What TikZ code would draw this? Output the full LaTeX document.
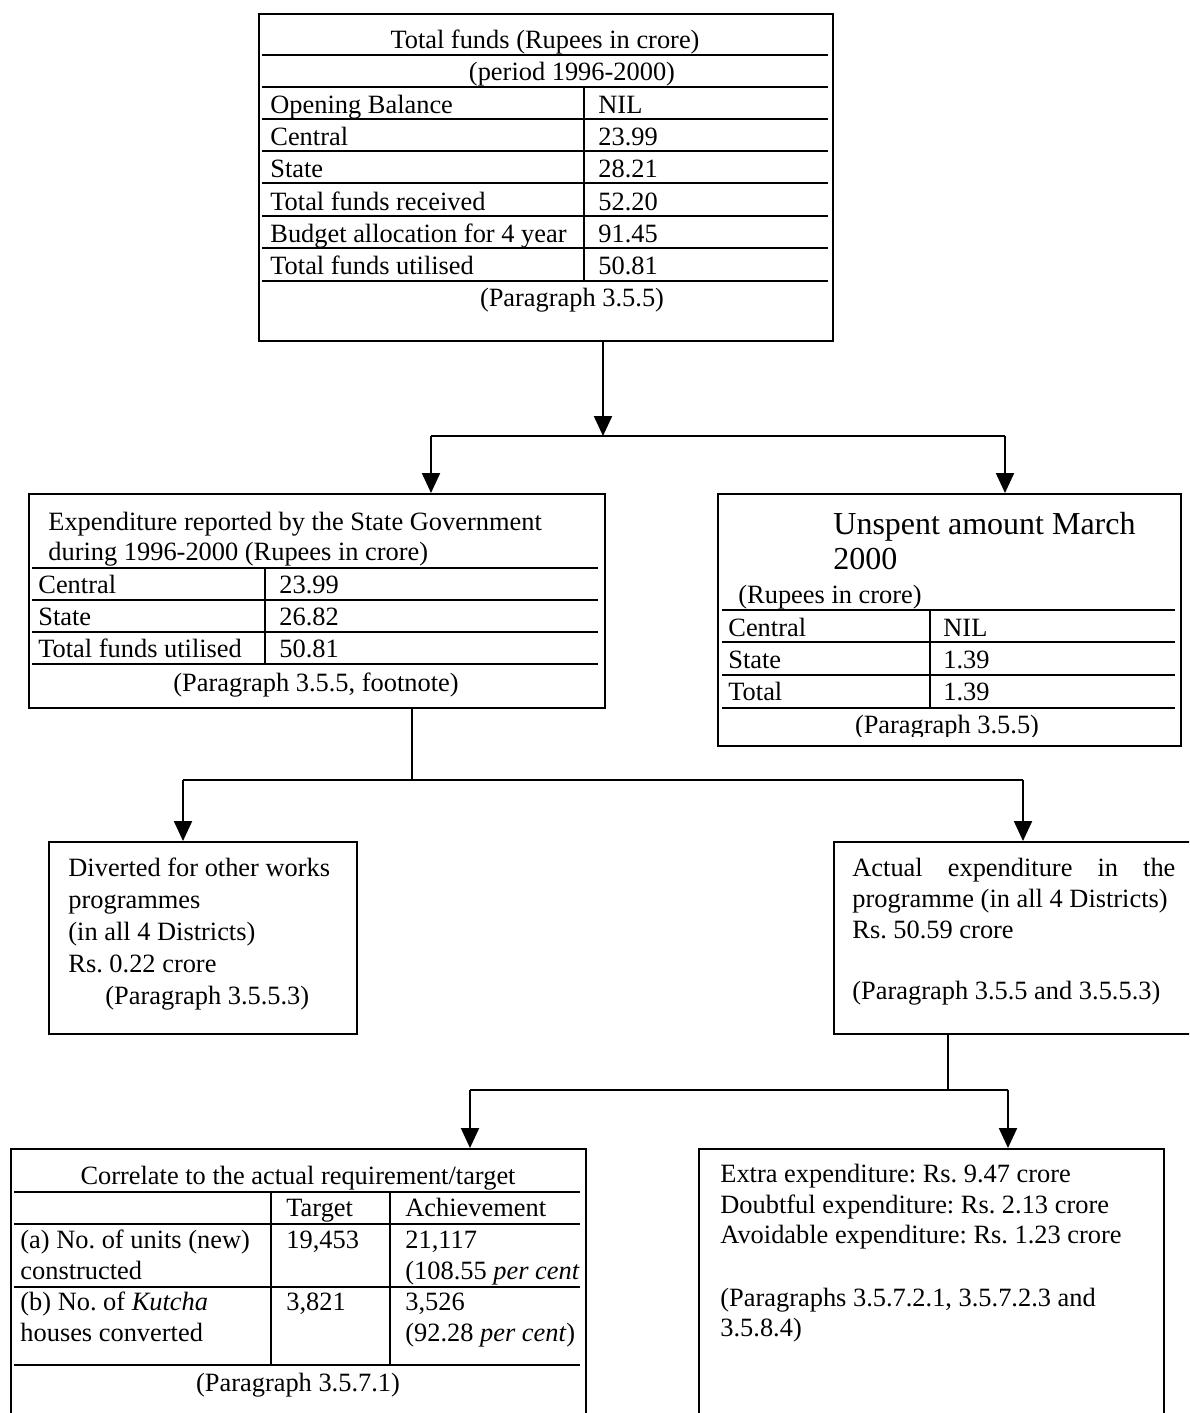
\documentclass[tikz,border=0pt]{standalone}
\usepackage{fontspec}
\setmainfont{Liberation Serif}
\usetikzlibrary{arrows.meta}
\frenchspacing

\begin{document}
\begin{tikzpicture}[x=0.5pt,y=-0.5pt]
\tikzset{boite/.style={draw, line width=1.1pt, anchor=north west, inner sep=0pt},
  regle/.style={line width=0.8pt},
  lien/.style={line width=1.1pt},
  fleche/.style={lien, -{Triangle[length=10pt,width=9pt]}},
  txt/.style={anchor=base west, inner sep=0pt, font=\fontsize{13.2}{15.5}\selectfont},
  ctxt/.style={txt, anchor=base}}
\useasboundingbox (0,0) rectangle (1189,1413);
\clip (0,0) rectangle (1189,1413);

% boxes
\node[boite, minimum width=287pt, minimum height=163.5pt] (total) at (258,13) {};
\node[boite, minimum width=288pt, minimum height=107pt] (expend) at (28,493) {};
\node[boite, minimum width=231.5pt, minimum height=126pt] (unspent) at (717,493) {};
\node[boite, minimum width=154pt, minimum height=96pt] (divert) at (48,841) {};
\node[boite, minimum width=190pt, minimum height=96pt] (actual) at (833,841) {};
\node[boite, minimum width=287.5pt, minimum height=145pt] (correl) at (10,1148) {};
\node[boite, minimum width=232.5pt, minimum height=145pt] (extra) at (698,1148) {};

% total funds
\foreach \y in {55,87,119,151,183,216,248,281}
  \draw[regle] (262,\y) -- (828,\y);
\draw[regle] (584,87) -- (584,281);
\node[ctxt] (t1) at (545,49) {Total funds (Rupees in crore)};
\node[ctxt] (t2) at (572,81) {(period 1996-2000)};
\foreach \lab/\val [count=\i] in {Opening Balance/NIL, Central/23.99, State/28.21,
    Total funds received/52.20, Budget allocation for 4 year/91.45, Total funds utilised/50.81}
{
  \node[txt] (tl\i) at (270,{81+32.3*\i}) {\lab};
  \node[txt] (tv\i) at (598,{81+32.3*\i}) {\val};
}
\node[ctxt] (t3) at (572,306) {(Paragraph 3.5.5)};

% expenditure reported
\foreach \y in {568,600,632,664}
  \draw[regle] (32,\y) -- (598,\y);
\draw[regle] (265,568) -- (265,664);
\node[txt] (e1) at (48,530) {Expenditure reported by the State Government};
\node[txt] (e2) at (48,560) {during 1996-2000 (Rupees in crore)};
\foreach \lab/\val [count=\i] in {Central/23.99, State/26.82, Total funds utilised/50.81}
{
  \node[txt] (el\i) at (38,{561+32*\i}) {\lab};
  \node[txt] (ev\i) at (279,{561+32*\i}) {\val};
}
\node[ctxt] (e3) at (316,691) {(Paragraph 3.5.5, footnote)};

% unspent amount
\foreach \y in {610,642,675,708}
  \draw[regle] (722,\y) -- (1175,\y);
\draw[regle] (930,610) -- (930,708);
\node[txt, font=\fontsize{16}{18}\selectfont] (u1) at (833,534) {Unspent amount March};
\node[txt, font=\fontsize{16}{18}\selectfont] (u2) at (833,569) {2000};
\node[txt] (u3) at (738,603) {(Rupees in crore)};
\foreach \lab/\val [count=\i] in {Central/NIL, State/1.39, Total/1.39}
{
  \node[txt] (ul\i) at (728,{604+32*\i}) {\lab};
  \node[txt] (uv\i) at (943,{604+32*\i}) {\val};
}
\begin{scope}
  \clip (717,708) rectangle (1180,736);
  \node[ctxt] (u4) at (947,733) {(Paragraph 3.5.5)};
\end{scope}

% diverted
\foreach \t [count=\i] in {Diverted for other works, programmes, (in all 4 Districts), Rs. 0.22 crore}
  \node[txt] (d\i) at (68,{844+32*\i}) {\t};
\node[txt] (d5) at (105,1004) {(Paragraph 3.5.5.3)};

% actual expenditure
\node[txt] (a1) at (852,876) {\makebox[161.5pt][s]{Actual expenditure in the}};
\node[txt] (a2) at (852,907) {programme (in all 4 Districts)};
\node[txt] (a3) at (852,938) {Rs. 50.59 crore};
\node[txt] (a4) at (852,999) {(Paragraph 3.5.5 and 3.5.5.3)};

% correlate
\foreach \y in {1192,1224,1287,1365}
  \draw[regle] (14,\y) -- (580,\y);
\draw[regle] (271,1192) -- (271,1365);
\draw[regle] (390,1192) -- (390,1365);
\node[ctxt] (c0) at (298,1184) {Correlate to the actual requirement/target};
\node[txt] (c1) at (286,1216) {Target};
\node[txt] (c2) at (405,1216) {Achievement};
\node[txt] (c3) at (20,1248) {(a) No. of units (new)};
\node[txt] (c4) at (20,1279) {constructed};
\node[txt] (c5) at (286,1248) {19,453};
\node[txt] (c6) at (405,1248) {21,117};
\node[txt] (c7) at (405,1279) {(108.55 \textit{per cent}};
\node[txt] (c8) at (20,1310) {(b) No. of \textit{Kutcha}};
\node[txt] (c9) at (20,1341) {houses converted};
\node[txt] (c10) at (286,1310) {3,821};
\node[txt] (c11) at (405,1310) {3,526};
\node[txt] (c12) at (405,1341) {(92.28 \textit{per cent})};
\node[ctxt] (c13) at (298,1391) {(Paragraph 3.5.7.1)};

% extra expenditure
\foreach \t [count=\i] in {Extra expenditure: Rs. 9.47 crore, Doubtful expenditure: Rs. 2.13 crore,
    Avoidable expenditure: Rs. 1.23 crore}
  \node[txt] (x\i) at (720,{1152+30.5*\i}) {\t};
\node[txt] (x4) at (720,1306) {(Paragraphs 3.5.7.2.1, 3.5.7.2.3 and};
\node[txt] (x5) at (720,1336) {3.5.8.4)};

% connectors
\coordinate (j1) at (603,436);
\coordinate (j1a) at (431,436);
\coordinate (j1b) at (1005,436);
\draw[fleche] (j1 |- total.south) -- (j1);
\draw[lien] (j1a) -- (j1b);
\draw[fleche] (j1a) -- (j1a |- expend.north);
\draw[fleche] (j1b) -- (j1b |- unspent.north);

\coordinate (j2) at (412,780);
\coordinate (j2a) at (183,780);
\coordinate (j2b) at (1023,780);
\draw[lien] (j2 |- expend.south) -- (j2);
\draw[lien] (j2a) -- (j2b);
\draw[fleche] (j2a) -- (j2a |- divert.north);
\draw[fleche] (j2b) -- (j2b |- actual.north);

\coordinate (j3) at (948,1090);
\coordinate (j3a) at (470,1090);
\coordinate (j3b) at (1008,1090);
\draw[lien] (j3 |- actual.south) -- (j3);
\draw[lien] (j3a) -- (j3b);
\draw[fleche] (j3a) -- (j3a |- correl.north);
\draw[fleche] (j3b) -- (j3b |- extra.north);
\end{tikzpicture}
\end{document}
